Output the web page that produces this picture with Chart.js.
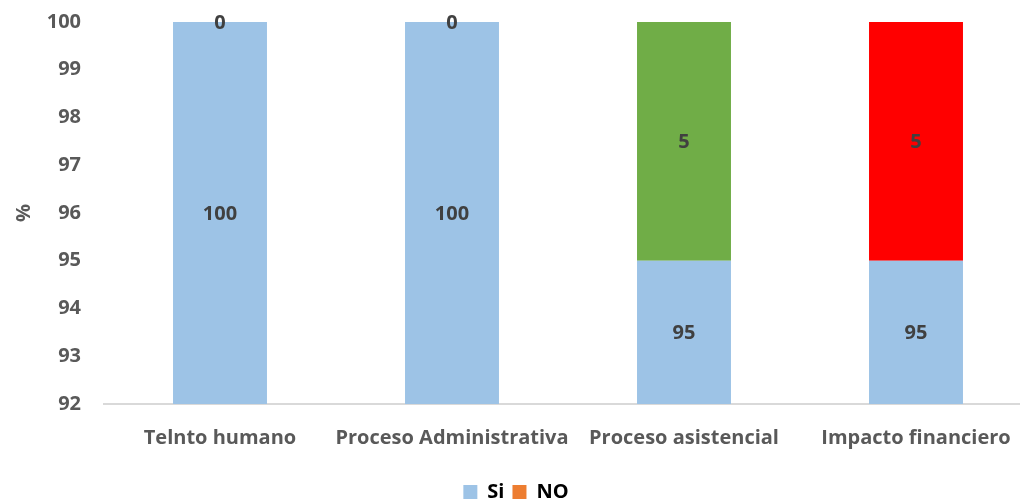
<!DOCTYPE html>
<html lang="es">
<head>
  <meta charset="UTF-8" />
  <title>Si / NO por área</title>
  <script src="https://cdn.jsdelivr.net/npm/chart.js"></script>
  <style>
    html, body { margin: 0; padding: 0; background: #fff; overflow: hidden; }
    #caja { width: 1040px; height: 503px; position: relative; }
  </style>
</head>
<body>
  <div id="caja"><canvas id="grafico"></canvas></div>

  <script>
    const categorias = ['Telnto humano', 'Proceso Administrativa', 'Proceso asistencial', 'Impacto financiero'];
    const valoresSi = [100, 100, 95, 95];
    const valoresNo = [0, 0, 5, 5];
    const ticksY = [92, 93, 94, 95, 96, 97, 98, 99, 100];

    const azul = '#9DC3E6';
    const naranja = '#ED7D31';
    const coloresNo = [naranja, naranja, '#70AD47', '#FF0000'];
    const fuente = '"Open Sans", Lato, sans-serif';
    const letra = { family: fuente, size: 20, weight: 'bold' };

    // etiquetas dentro de cada barra, centradas en la parte visible
    const etiquetas = {
      id: 'etiquetas',
      afterDatasetsDraw(chart) {
        const ctx = chart.ctx;
        const area = chart.chartArea;
        ctx.save();
        ctx.font = 'bold 20px ' + fuente;
        ctx.fillStyle = '#404040';
        ctx.textAlign = 'center';
        ctx.textBaseline = 'middle';
        chart.data.datasets.forEach((ds, i) => {
          chart.getDatasetMeta(i).data.forEach((bar, j) => {
            const y1 = Math.min(Math.max(bar.y, area.top), area.bottom);
            const y2 = Math.min(Math.max(bar.base, area.top), area.bottom);
            ctx.fillText(String(ds.data[j]), bar.x, (y1 + y2) / 2 + 1);
          });
        });
        ctx.restore();
      }
    };

    new Chart(document.getElementById('grafico'), {
      type: 'bar',
      data: {
        labels: categorias,
        datasets: [
          { label: 'Si', data: valoresSi, backgroundColor: azul },
          { label: 'NO', data: valoresNo, backgroundColor: coloresNo }
        ]
      },
      options: {
        responsive: true,
        maintainAspectRatio: false,
        animation: false,
        layout: { padding: { top: 0, right: 8, bottom: -9 } },
        datasets: { bar: { barPercentage: 0.405, categoryPercentage: 1 } },
        plugins: {
          tooltip: { enabled: false },
          legend: {
            position: 'bottom',
            labels: {
              boxWidth: 14, boxHeight: 14, padding: 8,
              color: '#595959',
              font: letra,
              generateLabels: () => [
                { text: 'Si', fillStyle: azul, strokeStyle: azul, lineWidth: 0, datasetIndex: 0 },
                { text: 'NO', fillStyle: naranja, strokeStyle: naranja, lineWidth: 0, datasetIndex: 1 }
              ]
            }
          }
        },
        scales: {
          x: {
            stacked: true,
            grid: { display: false },
            border: { color: '#D9D9D9', width: 2 },
            ticks: { color: '#595959', padding: 14, font: letra, maxRotation: 0, minRotation: 0, autoSkip: false },
            afterFit(scale) { scale.height = 70; }
          },
          y: {
            stacked: true,
            min: 92,
            max: 100,
            afterBuildTicks(scale) { scale.ticks = ticksY.map(v => ({ value: v })); },
            grid: { display: false },
            border: { display: false },
            ticks: { color: '#595959', padding: 15, font: letra },
            title: { display: true, text: '%', color: '#595959', padding: { top: 12, bottom: 0 }, font: letra },
            afterFit(scale) {
              scale.width = 104;
              scale.paddingTop = 22;
            }
          }
        }
      },
      plugins: [etiquetas]
    });
  </script>
</body>
</html>
